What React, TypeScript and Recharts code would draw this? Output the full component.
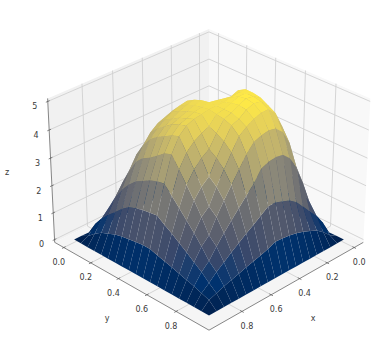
import { ComposedChart, Line, XAxis, YAxis, ReferenceDot } from 'recharts';

// grid of the surface
const xValues = [0, 0.05, 0.1, 0.15, 0.2, 0.25, 0.3, 0.35, 0.4, 0.45, 0.5, 0.55, 0.6, 0.65, 0.7, 0.75, 0.8, 0.85, 0.9, 0.95];
const yValues = [0, 0.05, 0.1, 0.15, 0.2, 0.25, 0.3, 0.35, 0.4, 0.45, 0.5, 0.55, 0.6, 0.65, 0.7, 0.75, 0.8, 0.85, 0.9, 0.95];

// z per x row
const zRows = [
  [0, 0, 0, 0, 0, 0, 0, 0, 0, 0, 0, 0, 0, 0, 0, 0, 0, 0, 0, 0],
  [0, 0.25, 0.35, 0.45, 0.53, 0.61, 0.7, 0.77, 0.85, 0.9, 0.95, 1, 1, 0.95, 0.85, 0.72, 0.6, 0.5, 0.16, 0],
  [0, 0.35, 0.57, 0.82, 1.03, 1.24, 1.43, 1.63, 1.81, 1.95, 2.05, 2.2, 2.3, 2.1, 1.85, 1.55, 1.3, 0.9, 0.42, 0],
  [0, 0.45, 0.82, 1.07, 1.45, 1.79, 2.1, 2.41, 2.71, 3.1, 3.3, 3.6, 3.7, 3.45, 3, 2.55, 2.1, 1.2, 0.62, 0],
  [0, 0.53, 1.03, 1.45, 1.71, 2.22, 2.67, 3.09, 3.5, 4.55, 4.7, 4.65, 4.45, 4.3, 4, 3.55, 2.8, 1.5, 0.74, 0],
  [0, 0.61, 1.24, 1.79, 2.22, 2.46, 3.02, 3.5, 3.96, 4.8, 4.95, 4.95, 4.9, 4.75, 4.6, 4.05, 3.25, 1.8, 0.86, 0],
  [0, 0.7, 1.43, 2.1, 2.67, 3.02, 3.25, 3.77, 4.22, 4.7, 4.95, 5.05, 5.05, 5, 4.85, 4.3, 3.5, 2, 0.94, 0],
  [0, 0.77, 1.63, 2.41, 3.09, 3.5, 3.77, 3.96, 4.38, 4.75, 4.9, 5.05, 5.1, 5.05, 4.85, 4.35, 3.55, 2.1, 1, 0],
  [0, 0.85, 1.81, 2.71, 3.5, 3.96, 4.22, 4.38, 4.5, 4.8, 4.85, 4.95, 5, 4.95, 4.75, 4.3, 3.5, 2.2, 1.03, 0],
  [0, 0.95, 2, 2.95, 3.65, 4.25, 4.55, 4.7, 4.8, 4.85, 4.85, 4.85, 4.85, 4.75, 4.6, 4.2, 3.4, 2.2, 1.05, 0],
  [0, 0.93, 1.95, 2.9, 3.6, 4.2, 4.5, 4.65, 4.75, 4.8, 4.85, 4.8, 4.75, 4.65, 4.4, 3.9, 3, 2, 0.93, 0],
  [0, 0.9, 1.93, 2.8, 3.5, 4.1, 4.4, 4.55, 4.65, 4.75, 4.8, 4.5, 4.38, 4.22, 3.96, 3.5, 2.71, 1.81, 0.85, 0],
  [0, 0.86, 1.85, 2.7, 3.4, 4, 4.25, 4.4, 4.55, 4.65, 4.75, 4.38, 3.96, 3.77, 3.5, 3.09, 2.41, 1.63, 0.77, 0],
  [0, 0.82, 1.75, 2.55, 3.25, 3.8, 4.05, 4.25, 4.45, 4.55, 4.65, 4.22, 3.77, 3.25, 3.02, 2.67, 2.1, 1.43, 0.7, 0],
  [0, 0.75, 1.55, 2.3, 3, 3.45, 3.8, 4, 4.15, 4.3, 4.4, 3.96, 3.5, 3.02, 2.46, 2.22, 1.79, 1.24, 0.61, 0],
  [0, 0.64, 1.3, 2, 2.55, 3, 3.25, 3.4, 3.6, 3.8, 3.9, 3.5, 3.09, 2.67, 2.22, 1.71, 1.45, 1.03, 0.53, 0],
  [0, 0.54, 1.07, 1.6, 2, 2.3, 2.55, 2.7, 2.85, 2.95, 3, 2.71, 2.41, 2.1, 1.79, 1.45, 1.07, 0.82, 0.45, 0],
  [0, 0.46, 0.8, 1.07, 1.3, 1.55, 1.75, 1.85, 1.93, 1.96, 2, 1.81, 1.63, 1.43, 1.24, 1.03, 0.82, 0.57, 0.35, 0],
  [0, 0.14, 0.36, 0.54, 0.64, 0.75, 0.82, 0.86, 0.9, 0.93, 0.93, 0.85, 0.77, 0.7, 0.61, 0.53, 0.45, 0.35, 0.25, 0],
  [0, 0, 0, 0, 0, 0, 0, 0, 0, 0, 0, 0, 0, 0, 0, 0, 0, 0, 0, 0],
];

const xyTicks = [0, 0.2, 0.4, 0.6, 0.8];
const zTicks = [0, 1, 2, 3, 4, 5];

const XY_LIM = [-0.069, 1.019];
const Z_LIM = [-0.104, 5.104];

const CIVIDIS = ['#00204d', '#00336f', '#39486b', '#575c6d', '#707173', '#8a8779', '#a69d75', '#c4b56c', '#e4cf5b', '#ffea46'];

function cividis(t: number) {
  const p = Math.max(0, Math.min(0.9999, t)) * (CIVIDIS.length - 1);
  const k = Math.floor(p);
  const f = p - k;
  const rgb = [1, 3, 5].map(o => {
    const a = parseInt(CIVIDIS[k].slice(o, o + 2), 16);
    const b = parseInt(CIVIDIS[k + 1].slice(o, o + 2), 16);
    return Math.round(a + (b - a) * f);
  });
  return `rgb(${rgb.join(',')})`;
}

// mplot3d style camera: elev 30, azim 45, dist 10, box 4:4:3
const BOX = [1.19, 1.19, 0.893];
const KX = 1875;
const KY = 1860;
const s = Math.SQRT1_2;
const c30 = Math.cos(Math.PI / 6);

function view(x: number, y: number, z: number) {
  const px = ((x - XY_LIM[0]) / (XY_LIM[1] - XY_LIM[0]) - 0.5) * BOX[0];
  const py = ((y - XY_LIM[0]) / (XY_LIM[1] - XY_LIM[0]) - 0.5) * BOX[1];
  const pz = ((z - Z_LIM[0]) / (Z_LIM[1] - Z_LIM[0]) - 0.5) * BOX[2];
  const u = (-px + py) * s;
  const v = -(px + py) * s * 0.5 + pz * c30;
  const n = (px + py) * s * c30 + pz * 0.5;
  const d = 10 - n;
  return { sx: 209 + (KX * u) / d, sy: 172 - (KY * v) / d, d };
}

type Pt = { sx: number; sy: number };
const pt3 = (x: number, y: number, z: number): Pt => {
  const p = view(x, y, z);
  return { sx: p.sx, sy: p.sy };
};

const polygonDot = (fill: string) => (props: any) => {
  if (props.index !== 0) return <g key={props.index} />;
  const pts = props.points.map((p: any) => `${p.x},${p.y}`).join(' ');
  return <polygon key={0} points={pts} fill={fill} stroke="none" />;
};

const polylineDot = (stroke: string, width: number) => (props: any) => {
  if (props.index !== 0) return <g key={props.index} />;
  const pts = props.points.map((p: any) => `${p.x},${p.y}`).join(' ');
  return <polyline key={0} points={pts} fill="none" stroke={stroke} strokeWidth={width} />;
};

// surface faces, far ones first
const rawFaces: { data: Pt[]; mean: number; depth: number }[] = [];
for (let i = 0; i < xValues.length - 1; i++) {
  for (let j = 0; j < yValues.length - 1; j++) {
    const corners = [[i, j], [i + 1, j], [i + 1, j + 1], [i, j + 1]];
    const views = corners.map(([a, b]) => view(xValues[a], yValues[b], zRows[a][b]));
    rawFaces.push({
      data: views.map(v => ({ sx: v.sx, sy: v.sy })),
      mean: corners.reduce((t, [a, b]) => t + zRows[a][b], 0) / 4,
      depth: views.reduce((t, v) => t + v.d, 0) / 4,
    });
  }
}
const maxMean = Math.max(...rawFaces.map(f => f.mean));
const faces = rawFaces.sort((a, b) => b.depth - a.depth);

const [L0, L1] = XY_LIM;
const [Z0, Z1] = Z_LIM;

const panes = [
  { fill: '#f1f1f1', data: [pt3(L1, L0, Z0), pt3(L0, L0, Z0), pt3(L0, L0, Z1), pt3(L1, L0, Z1)] },
  { fill: '#f8f8f8', data: [pt3(L0, L1, Z0), pt3(L0, L0, Z0), pt3(L0, L0, Z1), pt3(L0, L1, Z1)] },
  { fill: '#f5f5f5', data: [pt3(L1, L0, Z0), pt3(L1, L1, Z0), pt3(L0, L1, Z0), pt3(L0, L0, Z0)] },
];

const gridLines: Pt[][] = [
  ...xyTicks.map(t => [pt3(t, L1, Z0), pt3(t, L0, Z0), pt3(t, L0, Z1)]),
  ...xyTicks.map(t => [pt3(L1, t, Z0), pt3(L0, t, Z0), pt3(L0, t, Z1)]),
  ...zTicks.map(t => [pt3(L1, L0, t), pt3(L0, L0, t), pt3(L0, L1, t)]),
];

const axisLines: Pt[][] = [
  [pt3(L1, L0, Z0), pt3(L1, L0, Z1)],
  [pt3(L1, L0, Z0), pt3(L1, L1, Z0)],
  [pt3(L0, L1, Z0), pt3(L1, L1, Z0)],
  ...xyTicks.map(t => [pt3(t, L1 + 0.012, Z0), pt3(t, L1 - 0.012, Z0)]),
  ...xyTicks.map(t => [pt3(L1 + 0.012, t, Z0), pt3(L1 - 0.012, t, Z0)]),
  ...zTicks.map(t => [pt3(L1 + 0.012, L0, t), pt3(L1 - 0.012, L0, t)]),
];

const textStyle = { fontSize: 8, fill: '#3a3a3a', fontFamily: 'DejaVu Sans' };

const tickTexts = [
  ...xyTicks.map(t => {
    const p = pt3(t, L1, Z0);
    return { x: p.sx + 5, y: p.sy + 14.5, value: t.toFixed(1) };
  }),
  ...xyTicks.map(t => {
    const p = pt3(L1, t, Z0);
    return { x: p.sx - 5, y: p.sy + 14.5, value: t.toFixed(1) };
  }),
  ...zTicks.map(t => {
    const p = pt3(L1, L0, t);
    return { x: p.sx - 13, y: p.sy + 5, value: String(t) };
  }),
  { x: 313, y: 318, value: 'x' },
  { x: 107, y: 318, value: 'y' },
  { x: 7, y: 172, value: 'z' },
];

export default function App() {
  return (
    <div style={{ position: 'absolute', left: 0, top: 0, width: 382, height: 354, background: '#fff' }}>
      <ComposedChart width={382} height={354} margin={{ top: 0, right: 0, bottom: 0, left: 0 }}>
        <XAxis type="number" dataKey="sx" domain={[0, 382]} hide allowDataOverflow />
        <YAxis type="number" domain={[0, 354]} reversed hide allowDataOverflow />
        {panes.map((p, i) => (
          <Line key={`pane${i}`} data={p.data} dataKey="sy" stroke="none" isAnimationActive={false} dot={polygonDot(p.fill)} activeDot={false} />
        ))}
        {gridLines.map((d, i) => (
          <Line key={`grid${i}`} data={d} dataKey="sy" stroke="none" isAnimationActive={false} dot={polylineDot('#d0d0d0', 0.9)} activeDot={false} />
        ))}
        {axisLines.map((d, i) => (
          <Line key={`axis${i}`} data={d} dataKey="sy" stroke="none" isAnimationActive={false} dot={polylineDot('#555', 0.7)} activeDot={false} />
        ))}
        {faces.map((f, i) => (
          <Line key={`face${i}`} data={f.data} dataKey="sy" stroke="none" isAnimationActive={false} dot={polygonDot(cividis(f.mean / maxMean))} activeDot={false} />
        ))}
        {tickTexts.map((t, i) => (
          <ReferenceDot key={`txt${i}`} x={t.x} y={t.y} r={0} fill="none" stroke="none" label={{ value: t.value, position: 'center', ...textStyle }} />
        ))}
      </ComposedChart>
    </div>
  );
}
